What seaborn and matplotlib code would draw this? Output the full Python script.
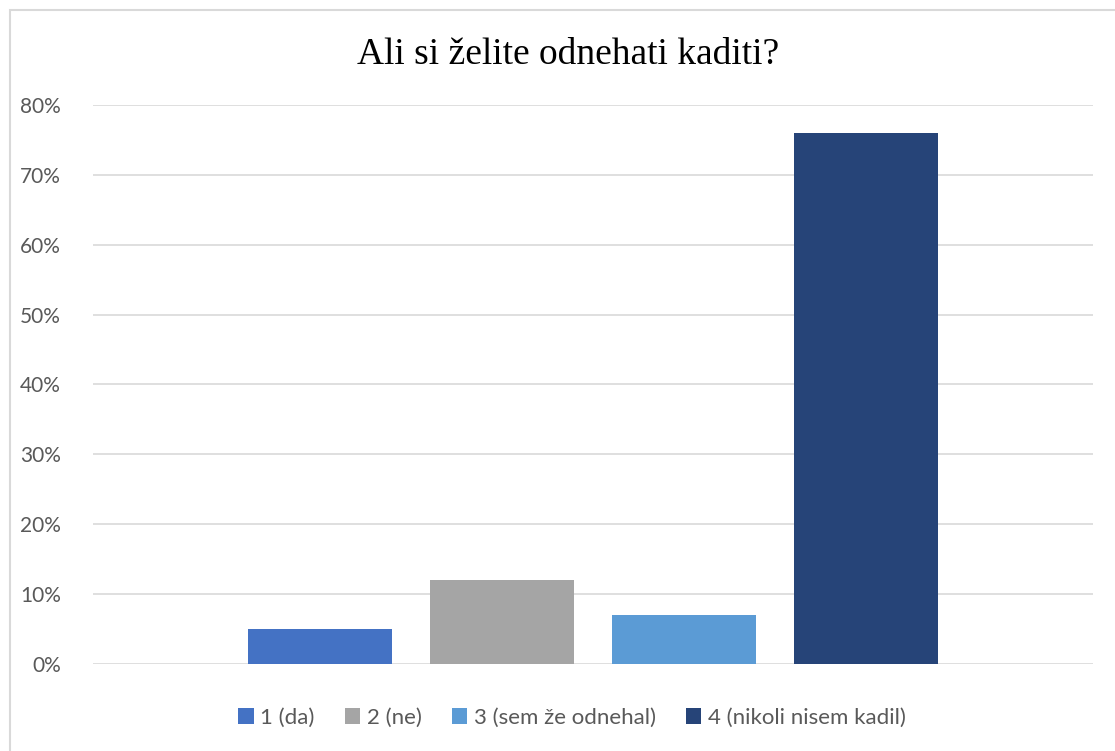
import pandas as pd
import numpy as np
import matplotlib.pyplot as plt
import seaborn as sns
from matplotlib.patches import Rectangle
from matplotlib.ticker import PercentFormatter

# podatki
odgovori = ['1 (da)', '2 (ne)', '3 (sem že odnehal)', '4 (nikoli nisem kadil)']
deleži = [0.05, 0.12, 0.07, 0.76]
barve = ['#4472C4', '#A5A5A5', '#5B9BD5', '#264478']
y_oznake = [0, 0.1, 0.2, 0.3, 0.4, 0.5, 0.6, 0.7, 0.8]
naslov = 'Ali si želite odnehati kaditi?'

df = pd.DataFrame({'kategorija': [''] * len(odgovori), 'odgovor': odgovori, 'delež': deleži})

sns.set_style('white')
plt.rcParams['font.family'] = ['Lato', 'DejaVu Sans']

fig = plt.figure(figsize=(11.15, 7.51), dpi=100)
ax = fig.add_axes([93 / 1115, 1 - 664 / 751, 1000 / 1115, 559 / 751])

sns.barplot(data=df, x='kategorija', y='delež', hue='odgovor', hue_order=odgovori,
            palette=barve, width=0.728, gap=0.21, saturation=1, linewidth=0,
            ax=ax, legend=True)

ax.set_ylim(0, 0.8)
ax.set_xlim(-0.5, 0.5)
ax.set_yticks(y_oznake)
ax.yaxis.set_major_formatter(PercentFormatter(1.0, decimals=0))
ax.tick_params(axis='y', labelsize=15, labelcolor='#595959', length=0, pad=23)
ax.set_xticks([])
ax.set_xlabel('')
ax.set_ylabel('')
ax.grid(axis='y', color='#D9D9D9', linewidth=1.2)
ax.set_axisbelow(True)
for s in ax.spines.values():
    s.set_visible(False)

# legenda spodaj
ax.legend(loc='center', bbox_to_anchor=(572 / 1115, 1 - 718 / 751), bbox_transform=fig.transFigure,
          ncol=4, frameon=False, fontsize=16, handlelength=0.7, handleheight=0.7,
          handletextpad=0.3, columnspacing=1.35, labelcolor='#595959')

# naslov
fig.text(568 / 1115, 1 - 55 / 751, naslov, ha='center', va='center',
         fontsize=27, family=['Liberation Serif', 'DejaVu Serif'], color='black')

# okvir grafikona
fig.patches.append(Rectangle((10 / 1115, -0.1), 1.2, 1 - 10 / 751 + 0.1, transform=fig.transFigure,
                             fill=False, edgecolor='#D9D9D9', linewidth=1.5, figure=fig))

plt.savefig('out.png', dpi=100)
plt.close()
